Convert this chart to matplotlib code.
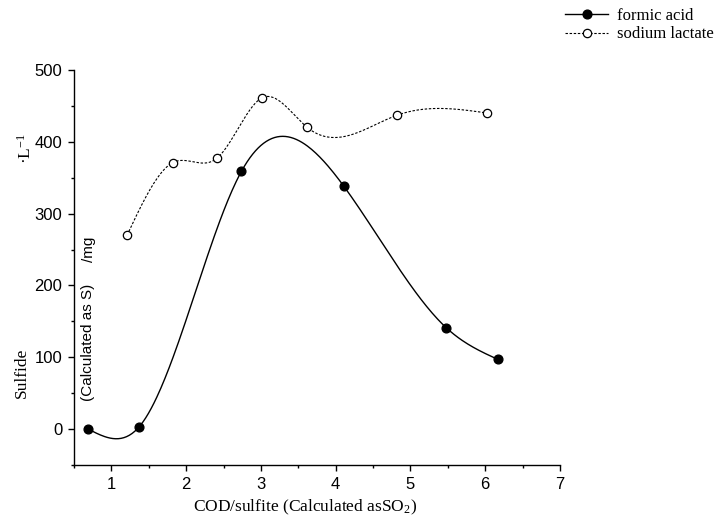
import numpy as np
import matplotlib
matplotlib.use("Agg")
import matplotlib.pyplot as plt
from matplotlib.ticker import MultipleLocator
from matplotlib.lines import Line2D

# ---- data ----
formic_x = [0.69, 1.37, 2.74, 4.11, 5.48, 6.17]
formic_y = [0, 3, 359, 338, 141, 97]
lactate_x = [1.21, 1.82, 2.41, 3.01, 3.62, 4.82, 6.03]
lactate_y = [270, 371, 377, 461, 420, 437, 440]
series_names = ["formic acid", "sodium lactate"]
xticks = [1, 2, 3, 4, 5, 6, 7]
yticks = [0, 100, 200, 300, 400, 500]


def natural_spline(x, y, n=300):
    x = np.asarray(x, float); y = np.asarray(y, float)
    m = len(x); h = np.diff(x)
    A = np.zeros((m, m)); b = np.zeros(m)
    A[0, 0] = 1; A[-1, -1] = 1
    for i in range(1, m - 1):
        A[i, i - 1] = h[i - 1]
        A[i, i] = 2 * (h[i - 1] + h[i])
        A[i, i + 1] = h[i]
        b[i] = 6 * ((y[i + 1] - y[i]) / h[i] - (y[i] - y[i - 1]) / h[i - 1])
    M = np.linalg.solve(A, b)
    xs = np.linspace(x[0], x[-1], n)
    idx = np.clip(np.searchsorted(x, xs) - 1, 0, m - 2)
    x0 = x[idx]; x1 = x[idx + 1]; hh = x1 - x0
    ys = (M[idx] * (x1 - xs) ** 3 / (6 * hh) + M[idx + 1] * (xs - x0) ** 3 / (6 * hh)
          + (y[idx] / hh - M[idx] * hh / 6) * (x1 - xs)
          + (y[idx + 1] / hh - M[idx + 1] * hh / 6) * (xs - x0))
    return xs, ys


plt.rcParams['mathtext.default'] = 'regular'
W, H = 724, 525
fig = plt.figure(figsize=(7.24, 5.25), dpi=100)
ax = fig.add_axes([74 / W, 1 - 465 / H, (560 - 74) / W, (465 - 70) / H])

sans = "Liberation Sans"
serif = "Liberation Serif"

fx, fy = natural_spline(formic_x, formic_y)
lx, ly = natural_spline(lactate_x, lactate_y)
ax.plot(fx, fy, color="black", lw=1.0)
ax.plot(formic_x, formic_y, "o", color="black", ms=6.3, mec="black", mfc="black")
ax.plot(lx, ly, color="black", lw=0.8, ls=(0, (2.2, 1.5)))
ax.plot(lactate_x, lactate_y, "o", color="black", ms=6.0, mec="black", mfc="white", mew=0.9)

ax.set_xlim(0.5, 7)
ax.set_ylim(-50, 500)
ax.set_xticks(xticks)
ax.set_yticks(yticks)
ax.xaxis.set_minor_locator(MultipleLocator(0.5))
ax.yaxis.set_minor_locator(MultipleLocator(50))
for s in ["top", "right"]:
    ax.spines[s].set_visible(False)
for s in ["left", "bottom"]:
    ax.spines[s].set_linewidth(1.0)
ax.tick_params(which="major", direction="out", length=4.5, width=1.0, labelsize=12, pad=4)
ax.tick_params(which="minor", direction="out", length=2.5, width=1.0)
for lab in ax.get_xticklabels() + ax.get_yticklabels():
    lab.set_fontfamily(sans)

# x label
fig.text(305 / W, 1 - 507 / H, "COD/sulfite (Calculated asSO$_{2}$)", family=serif,
         fontsize=12.5, ha="center", va="center")

# y label pieces
fig.text(22 / W, 1 - 373 / H, "Sulfide", family=serif, fontsize=12.5, rotation=90,
         ha="center", va="center")
fig.text(88 / W, 1 - 342 / H, "(Calculated as S)", family=sans, fontsize=11, rotation=90,
         ha="center", va="center")
fig.text(89 / W, 1 - 249 / H, "/mg", family=sans, fontsize=11, rotation=90,
         ha="center", va="center")
fig.text(26 / W, 1 - 149 / H, "·L$^{-1}$", family=serif, fontsize=12.5, rotation=90,
         ha="center", va="center")

# legend
handles = [
    Line2D([], [], color="black", lw=1.0, marker="o", ms=6.3, mfc="black", mec="black"),
    Line2D([], [], color="black", lw=0.8, ls=(0, (2.2, 1.5)), marker="o", ms=6.0,
           mfc="white", mec="black", mew=0.9),
]
fig.legend(handles, series_names, loc="upper left", bbox_to_anchor=(560 / W, 1 - 3 / H),
           frameon=False, prop={"family": serif, "size": 12}, handlelength=2.6,
           handletextpad=0.5, labelspacing=0.15, borderaxespad=0, borderpad=0.3)

fig.savefig("out.png", dpi=100)
